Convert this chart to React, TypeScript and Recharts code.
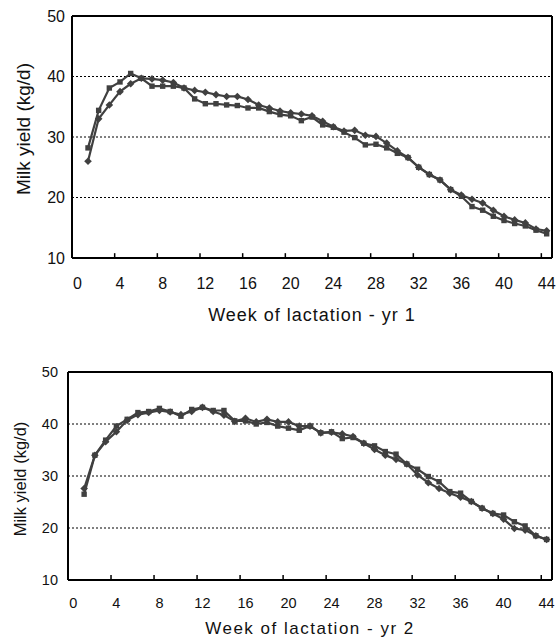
import React from "react";
import { LineChart, Line, XAxis, YAxis, CartesianGrid, ReferenceLine } from "recharts";

const weeks = [
  1, 2, 3, 4, 5, 6, 7, 8, 9, 10, 11, 12, 13, 14, 15, 16, 17, 18, 19, 20, 21, 22,
  23, 24, 25, 26, 27, 28, 29, 30, 31, 32, 33, 34, 35, 36, 37, 38, 39, 40, 41, 42,
  43, 44,
];

// year 1
const yr1Square = [
  28.2, 34.4, 38.1, 39.1, 40.5, 39.7, 38.4, 38.4, 38.4, 38.1, 36.3, 35.5, 35.5,
  35.3, 35.2, 34.8, 34.8, 34.2, 33.7, 33.5, 32.7, 33.3, 32.0, 31.6, 30.8, 29.9,
  28.7, 28.8, 28.2, 27.3, 26.6, 25.0, 23.8, 22.9, 21.3, 20.2, 18.5, 17.9, 16.9,
  16.2, 15.7, 15.3, 14.6, 14.0,
];
const yr1Diamond = [
  26.0, 33.0, 35.3, 37.5, 38.8, 39.7, 39.6, 39.4, 39.0, 38.1, 37.7, 37.4, 37.0,
  36.7, 36.7, 36.2, 35.3, 34.8, 34.3, 34.0, 33.8, 33.5, 32.6, 31.7, 31.0, 31.1,
  30.3, 30.1, 29.0, 27.7, 26.6, 25.0, 23.8, 22.9, 21.3, 20.4, 19.7, 19.1, 17.9,
  16.9, 16.3, 15.8, 14.8, 14.5,
];

// year 2
const yr2Square = [
  26.5, 34.0, 36.9, 39.6, 40.9, 42.2, 42.4, 43.0, 42.4, 41.5, 42.8, 43.2, 42.6,
  42.6, 40.6, 40.6, 40.0, 40.3, 39.6, 39.2, 38.8, 39.6, 38.3, 38.5, 37.2, 37.4,
  36.3, 35.8, 34.7, 34.2, 32.3, 31.3, 29.9, 28.9, 27.0, 26.7, 25.1, 23.8, 22.8,
  22.5, 21.2, 20.4, 18.5, 17.8,
];
const yr2Diamond = [
  27.6, 34.0, 36.6, 38.5, 40.7, 41.8, 42.2, 42.6, 42.3, 41.8, 42.4, 43.2, 42.4,
  41.7, 40.5, 41.1, 40.4, 40.9, 40.4, 40.4, 39.6, 39.6, 38.3, 38.4, 38.1, 37.6,
  36.3, 35.1, 34.0, 33.2, 32.3, 30.2, 28.7, 27.6, 26.7, 25.9, 25.1, 23.8, 22.8,
  21.7, 19.9, 19.6, 18.5, 17.8,
];

const xTicks = [0, 4, 8, 12, 16, 20, 24, 28, 32, 36, 40, 44];
const yTicks = [10, 20, 30, 40, 50];

const rows1 = weeks.map((w, i) => ({ week: w, a: yr1Square[i], b: yr1Diamond[i] }));
const rows2 = weeks.map((w, i) => ({ week: w, a: yr2Square[i], b: yr2Diamond[i] }));

const FONT = "Arial, 'Liberation Sans', sans-serif";
const INK = "#404040";
const EDGE = "#000";
const X_MIN = -0.5;
const X_MAX = 44.5;

const SquareDot = (props: any) => {
  const { cx, cy, index } = props;
  if (cx == null || cy == null) return null;
  return <rect key={`s${index}`} x={cx - 2.7} y={cy - 2.7} width={5.4} height={5.4} fill={INK} />;
};

const DiamondDot = (props: any) => {
  const { cx, cy, index } = props;
  if (cx == null || cy == null) return null;
  const r = 3.8;
  return (
    <polygon
      key={`d${index}`}
      points={`${cx},${cy - r} ${cx + r},${cy} ${cx},${cy + r} ${cx - r},${cy}`}
      fill={INK}
    />
  );
};

const XTick = (props: any) => {
  const { x, y, payload } = props;
  return (
    <text x={x} y={y + props.dy2} textAnchor="middle" fontSize={props.fs} fontFamily={FONT} fill="#111">
      {payload.value}
    </text>
  );
};

const YTick = (props: any) => {
  const { x, y, payload } = props;
  return (
    <text x={x - props.gap} y={y} dy="0.36em" textAnchor="end" fontSize={props.fs} fontFamily={FONT} fill="#111">
      {payload.value}
    </text>
  );
};

// plot frame + inward tick marks, all placed in data units
function frame(tickLen: number) {
  const out: any[] = [
    <ReferenceLine key="fl" x={X_MIN} stroke={EDGE} strokeWidth={2} ifOverflow="visible" />,
    <ReferenceLine key="fr" x={X_MAX} stroke={EDGE} strokeWidth={2} ifOverflow="visible" />,
    <ReferenceLine key="ft" y={50} stroke={EDGE} strokeWidth={2} ifOverflow="visible" />,
    <ReferenceLine key="fb" y={10} stroke={EDGE} strokeWidth={2} ifOverflow="visible" />,
  ];
  xTicks.forEach((t) => {
    out.push(
      <ReferenceLine
        key={`xt${t}`}
        segment={[
          { x: t - 0.5, y: 10 },
          { x: t - 0.5, y: 10 + tickLen },
        ]}
        stroke={EDGE}
        strokeWidth={1.5}
        ifOverflow="visible"
      />
    );
  });
  return out;
}

function yTitle(font: number, tx: number, shift: number) {
  return (lp: any) => {
    const vb = lp.viewBox;
    const cy = vb.y + vb.height / 2 + shift;
    return (
      <text
        x={tx}
        y={cy}
        dy="0.36em"
        textAnchor="middle"
        transform={`rotate(-90 ${tx} ${cy})`}
        fontSize={font}
        fontFamily={FONT}
        fill="#111"
      >
        Milk yield (kg/d)
      </text>
    );
  };
}

function xTitle(text: string, font: number, spacing: number, ty: number) {
  return (lp: any) => {
    const vb = lp.viewBox;
    return (
      <text
        x={vb.x + vb.width / 2}
        y={ty}
        textAnchor="middle"
        fontSize={font}
        letterSpacing={spacing}
        fontFamily={FONT}
        fill="#111"
      >
        {text}
      </text>
    );
  };
}

export default function App() {
  return (
    <div style={{ position: "absolute", left: 0, top: 0, width: 557, height: 639, background: "#fff" }}>
      <LineChart width={557} height={325} data={rows1} margin={{ top: 16, right: 5, bottom: 0, left: 0 }}>
        <CartesianGrid vertical={false} stroke="#000" strokeDasharray="2 2" />
        <XAxis
          dataKey="week"
          type="number"
          domain={[X_MIN, X_MAX]}
          ticks={xTicks}
          height={67}
          axisLine={false}
          tickLine={false}
          tick={<XTick dy2={23} fs={16} />}
          label={xTitle("Week of lactation - yr 1", 18, 1, 321)}
        />
        <YAxis
          domain={[10, 50]}
          ticks={yTicks}
          width={72}
          axisLine={false}
          tickLine={false}
          tick={<YTick gap={-1} fs={16} />}
          label={yTitle(19, 23, -8)}
        />
        {frame(0.8)}
        <Line type="linear" dataKey="a" stroke={INK} strokeWidth={2.2} dot={SquareDot} activeDot={false} isAnimationActive={false} />
        <Line type="linear" dataKey="b" stroke={INK} strokeWidth={2.2} dot={DiamondDot} activeDot={false} isAnimationActive={false} />
      </LineChart>
      <LineChart width={557} height={314} data={rows2} margin={{ top: 47, right: 5, bottom: 0, left: 0 }}>
        <CartesianGrid vertical={false} stroke="#000" strokeDasharray="2 2" />
        <XAxis
          dataKey="week"
          type="number"
          domain={[X_MIN, X_MAX]}
          ticks={xTicks}
          height={59}
          axisLine={false}
          tickLine={false}
          tick={<XTick dy2={20} fs={14.5} />}
          label={xTitle("Week of lactation - yr 2", 17, 1.5, 309)}
        />
        <YAxis
          domain={[10, 50]}
          ticks={yTicks}
          width={68}
          axisLine={false}
          tickLine={false}
          tick={<YTick gap={2} fs={14.5} />}
          label={yTitle(16.5, 20, 3)}
        />
        {frame(0.95)}
        <Line type="linear" dataKey="a" stroke={INK} strokeWidth={2.2} dot={SquareDot} activeDot={false} isAnimationActive={false} />
        <Line type="linear" dataKey="b" stroke={INK} strokeWidth={2.2} dot={DiamondDot} activeDot={false} isAnimationActive={false} />
      </LineChart>
    </div>
  );
}
